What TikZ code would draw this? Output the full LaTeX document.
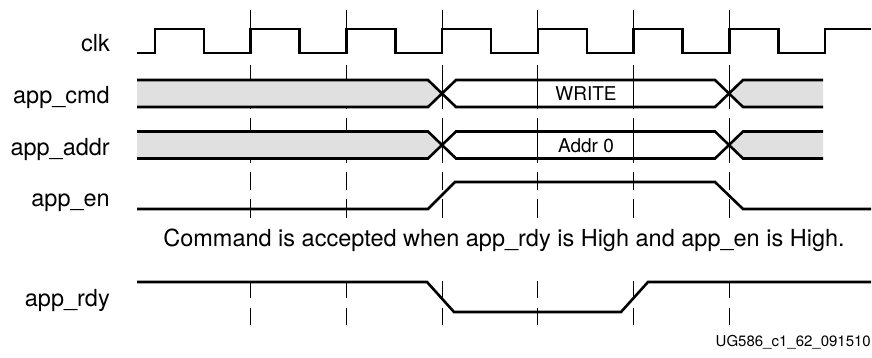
\documentclass[tikz,border=0pt]{standalone}
\usepackage{fontspec}
\setmainfont{TeX Gyre Heros}
\definecolor{busgray}{RGB}{224,224,224}
\begin{document}
\begin{tikzpicture}[x=1pt,y=-1pt,
  sig/.style={line width=2.6pt, line join=miter},
  gridline/.style={line width=1.2pt},
  lbl/.style={anchor=base east, inner sep=0pt, font=\fontsize{23.5}{28}\selectfont},
  buslbl/.style={anchor=base, inner sep=0pt, font=\fontsize{19}{23}\selectfont},
  note/.style={anchor=base, inner sep=0pt, font=\fontsize{23.5}{28}\selectfont},
  figid/.style={anchor=base east, inner sep=0pt, font=\fontsize{15}{18}\selectfont}]
\useasboundingbox (0,0) rectangle (872,358);

% dashed clock-edge guides
\foreach \x in {250.7,346.4,442.1,537.8,633.5,729.2}{
  \foreach \a/\b in {10/29,65/109,118/163,172/190,199/218,281/298,308/325}{
    \draw[gridline] (\x,\a) -- (\x,\b);
  }
}

% clk
\draw[sig] (137,53) -- (155,53) -- (155,29) -- (204,29) -- (204,53)
  -- (250.7,53) -- (250.7,29) -- (299.7,29) -- (299.7,53)
  -- (346.4,53) -- (346.4,29) -- (395.4,29) -- (395.4,53)
  -- (442.1,53) -- (442.1,29) -- (491.1,29) -- (491.1,53)
  -- (537.8,53) -- (537.8,29) -- (586.8,29) -- (586.8,53)
  -- (633.5,53) -- (633.5,29) -- (682.5,29) -- (682.5,53)
  -- (729.2,53) -- (729.2,29) -- (778.2,29) -- (778.2,53)
  -- (824.9,53) -- (824.9,29) -- (871,29);

% app_cmd bus
\fill[busgray] (137,80) -- (428,80) -- (442,93.5) -- (428,107) -- (137,107) -- cycle;
\draw[sig] (137,80) -- (428,80) -- (442,93.5) -- (428,107) -- (137,107);
\draw[sig] (442,93.5) -- (456,80) -- (715,80) -- (729,93.5) -- (715,107) -- (456,107) -- cycle;
\fill[busgray] (729,93.5) -- (743,80) -- (823,80) -- (823,107) -- (743,107) -- cycle;
\draw[sig] (823,80) -- (743,80) -- (729,93.5) -- (743,107) -- (823,107);

% app_addr bus
\fill[busgray] (137,131.5) -- (428,131.5) -- (442,145) -- (428,158.5) -- (137,158.5) -- cycle;
\draw[sig] (137,131.5) -- (428,131.5) -- (442,145) -- (428,158.5) -- (137,158.5);
\draw[sig] (442,145) -- (456,131.5) -- (715,131.5) -- (729,145) -- (715,158.5) -- (456,158.5) -- cycle;
\fill[busgray] (729,145) -- (743,131.5) -- (823,131.5) -- (823,158.5) -- (743,158.5) -- cycle;
\draw[sig] (823,131.5) -- (743,131.5) -- (729,145) -- (743,158.5) -- (823,158.5);

% app_en
\draw[sig] (137,209) -- (428,209) -- (455,182) -- (715,182) -- (743,209) -- (871,209);

% app_rdy
\draw[sig] (137,282) -- (427,282) -- (454,312) -- (621,312) -- (648,282) -- (871,282);

% labels
\node[lbl] (clk) at (110,52) {clk};
\node[lbl] (cmd) at (110,104) {app\_cmd};
\node[lbl] (addr) at (110,155.5) {app\_addr};
\node[lbl] (en) at (110,206) {app\_en};
\node[lbl] (rdy) at (110,306.5) {app\_rdy};

\node[buslbl] (write) at (586,101) {WRITE};
\node[buslbl] (addr0) at (586,152.5) {Addr 0};

\node[note] (cond) at (504,246) {Command is accepted when app\_rdy is High and app\_en is High.};
\node[figid] (fig) at (871,346.5) {UG586\_c1\_62\_091510};
\end{tikzpicture}
\end{document}
